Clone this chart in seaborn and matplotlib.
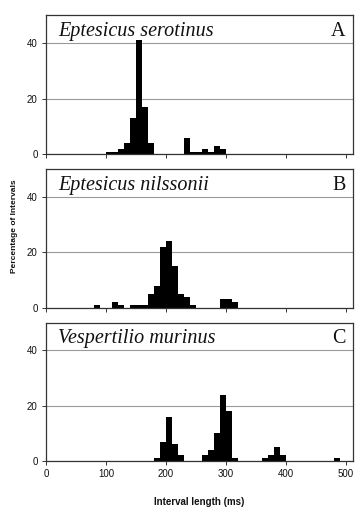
import numpy as np
import pandas as pd
import matplotlib
matplotlib.use("Agg")
import matplotlib.pyplot as plt
import seaborn as sns

sns.set_theme(style="white")
plt.rcParams["font.family"] = ["Liberation Sans", "DejaVu Sans"]

# lower edge of each 10 ms bin and the percentage of intervals in it
bins_a = [100, 110, 120, 130, 140, 150, 160, 170, 230, 240, 250, 260, 270, 280, 290]
pct_a = [1, 1, 2, 4, 13, 41, 17, 4, 6, 1, 1, 2, 1, 3, 2]

bins_b = [80, 110, 120, 140, 150, 160, 170, 180, 190, 200, 210, 220, 230, 240, 290, 300, 310]
pct_b = [1, 2, 1, 1, 1, 1, 5, 8, 22, 24, 15, 5, 4, 1, 3, 3, 2]

bins_c = [180, 190, 200, 210, 220, 260, 270, 280, 290, 300, 310, 360, 370, 380, 390, 480]
pct_c = [1, 7, 16, 6, 2, 2, 4, 10, 24, 18, 1, 1, 2, 5, 2, 1]

species = ["Eptesicus serotinus", "Eptesicus nilssonii", "Vespertilio murinus"]
letters = ["A", "B", "C"]
x_ticks = [0, 100, 200, 300, 400, 500]
y_ticks = [0, 20, 40]

fig = plt.figure(figsize=(3.64, 5.12), dpi=100)
fig.patch.set_facecolor("white")

# panel rectangles (left, bottom, width, height) in figure fraction
rects = [
    (0.1264, 0.6986, 0.8436, 0.2721),
    (0.1264, 0.3990, 0.8436, 0.2710),
    (0.1264, 0.0996, 0.8436, 0.2701),
]
data = [(bins_a, pct_a), (bins_b, pct_b), (bins_c, pct_c)]

for i, (rect, (b, p)) in enumerate(zip(rects, data)):
    ax = fig.add_axes(rect)
    df = pd.DataFrame({"interval": b, "pct": p})
    sns.histplot(data=df, x="interval", weights="pct", binwidth=10, binrange=(0, 510),
                 ax=ax, color="black", alpha=1, linewidth=0, edgecolor="black")
    ax.set_xlim(0, 512)
    ax.set_ylim(0, 50)
    ax.set_yticks(y_ticks)
    ax.set_xticks(x_ticks)
    ax.set_axisbelow(True)
    ax.yaxis.grid(True, color="#9a9a9a", lw=0.8)
    ax.xaxis.grid(False)
    for s in ax.spines.values():
        s.set_color("#333333")
        s.set_linewidth(0.9)
    ax.tick_params(axis="y", left=True, length=3, width=0.7, color="#333333",
                   direction="out", labelsize=7, pad=3, labelcolor="#111111")
    ax.tick_params(axis="x", bottom=True, length=3, width=0.7, color="#333333",
                   direction="out", labelsize=7, pad=3, labelcolor="#111111")
    if i < 2:
        ax.set_xticklabels([])
    ax.set_xlabel("")
    ax.set_ylabel("")
    ax.text(0.04, 0.85, species[i], transform=ax.transAxes, fontsize=14.5,
            family=["Liberation Serif", "DejaVu Serif"], style="italic",
            va="baseline", ha="left", color="#111111")
    ax.text(0.975, 0.85, letters[i], transform=ax.transAxes, fontsize=14.5,
            family=["Liberation Serif", "DejaVu Serif"],
            va="baseline", ha="right", color="#111111")

fig.text(0.5481, 1 - 502 / 512, "Interval length (ms)", ha="center", va="center",
         fontsize=7, fontweight="bold", color="#111111")
fig.text(15 / 364, 1 - 226 / 512, "Percentage of Intervals", ha="center", va="center",
         rotation=90, fontsize=6, fontweight="bold", color="#111111")

fig.savefig("out.png", dpi=100, facecolor="white")
